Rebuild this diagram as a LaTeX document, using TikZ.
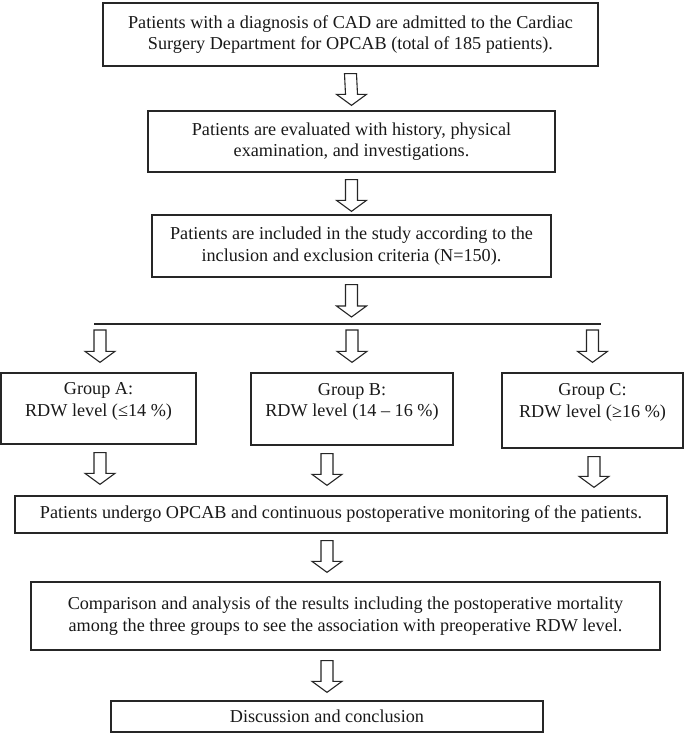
\documentclass[tikz,border=0pt]{standalone}
\usepackage{fontspec}
\setmainfont{Liberation Serif}
\usetikzlibrary{
    positioning,
    calc
}
\tikzset{
    % Colors
    frame color/.style={black!85},
    %
    % Boxes
    flow box/.style={draw,frame color,line width=1.3pt,inner sep=0pt,align=center,text=black!90},
    group box/.style={flow box,minimum width=#1},
    group text/.style={inner sep=0pt,align=center,text=black!90},
    %
    % Arrows and lines
    hollow arrow line/.style={draw,frame color,line width=1.1pt,fill=white,line join=miter},
    divider/.style={frame color,line width=1.1pt},
}
\tikzstyle{every node}=[font=\fontsize{18.2}{21.5}\selectfont]
% hollow block arrow from #1 (top of shaft) down to #2 (tip)
\newcommand{\hollowarrow}[2]{%
    \draw[hollow arrow line] ($(#1)+(-6,0)$) -- ($(#2)+(-6,-11)$) -- ($(#2)+(-15,-11)$) -- (#2)
        -- ($(#2)+(15,-11)$) -- ($(#2)+(6,-11)$) -- ($(#1)+(6,0)$) -- cycle;}

\begin{document}
\begin{tikzpicture}[x=1pt,y=-1pt]
        \useasboundingbox (0,0) rectangle (685,741);
        \node[flow box,minimum width=495pt,minimum height=63pt] (Admission) at (350.5,34.5)
            {Patients with a diagnosis of CAD are admitted to the Cardiac\\Surgery Department for OPCAB (total of 185 patients).};
        \node[flow box,minimum width=407pt,minimum height=61pt] (Evaluation) at (351.5,141.5)
            {Patients are evaluated with history, physical\\examination, and investigations.};
        \node[flow box,minimum width=399pt,minimum height=62pt] (Inclusion) at (351.5,246)
            {Patients are included in the study according to the\\inclusion and exclusion criteria (N=150).};
        \coordinate (Split Left) at (94,324);
        \coordinate (Split Right) at (601,324);
        \draw[divider] (Split Left) -- (Split Right);
        % the three groups
        \node[group box=195pt,minimum height=71pt] (Group A) at (98.5,408.5) {};
        \node[group box=202pt,minimum height=72pt] (Group B) at (352,409) {};
        \node[group box=181pt,minimum height=75pt] (Group C) at (592.5,410.5) {};
        \node[group text] (Group A Text) at ($(Group A.center)+(0,-7)$) {Group A:\\RDW level (≤14 \%)};
        \node[group text] (Group B Text) at ($(Group B.center)+(0,-7)$) {Group B:\\RDW level (14 – 16 \%)};
        \node[group text] (Group C Text) at ($(Group C.center)+(0,-8)$) {Group C:\\RDW level (≥16 \%)};
        \node[flow box,minimum width=652pt,minimum height=37pt] (Undergo) at (341,514.5)
            {Patients undergo OPCAB and continuous postoperative monitoring of the patients.};
        \node[flow box,minimum width=629pt,minimum height=68pt] (Comparison) at (345.5,616)
            {Comparison and analysis of the results including the postoperative mortality\\among the three groups to see the association with preoperative RDW level.};
        \node[flow box,minimum width=432pt,minimum height=31pt] (Discussion) at (327,716.5)
            {Discussion and conclusion};
        % arrow ends
        \coordinate (A1 top) at ($(Admission.south)+(0,7)$);
        \coordinate (A1 tip) at ($(Evaluation.north)+(0,-5)$);
        \coordinate (A2 top) at ($(Evaluation.south)+(0,7)$);
        \coordinate (A2 tip) at ($(Inclusion.north)+(0,-3)$);
        \coordinate (A3 top) at ($(Inclusion.south)+(0,7)$);
        \coordinate (A3 tip) at ($(Inclusion.south |- Split Left)+(0,-7)$);
        \coordinate (GA top) at ($(Split Left -| 100,0)+(0,6)$);
        \coordinate (GA tip) at ($(Group A.north -| GA top)+(0,-10)$);
        \coordinate (GB top) at ($(Split Left -| Group B.north)+(0,6)$);
        \coordinate (GB tip) at ($(Group B.north)+(0,-10)$);
        \coordinate (GC top) at ($(Split Left -| Group C.north)+(0,6)$);
        \coordinate (GC tip) at ($(Group C.north)+(0,-10)$);
        \coordinate (LA top) at ($(Group A.south -| GA top)+(0,8)$);
        \coordinate (LA tip) at ($(Undergo.north -| GA top)+(0,-11)$);
        \coordinate (LB top) at ($(Group B.south -| Discussion.north)+(0,8)$);
        \coordinate (LB tip) at ($(Undergo.north -| Discussion.north)+(0,-10)$);
        \coordinate (LC top) at ($(Group C.south -| 594,0)+(0,8)$);
        \coordinate (LC tip) at ($(Undergo.north -| LC top)+(0,-8)$);
        \coordinate (A4 top) at ($(Undergo.south -| Discussion.north)+(0,7)$);
        \coordinate (A4 tip) at ($(Comparison.north -| Discussion.north)+(0,-9)$);
        \coordinate (A5 top) at ($(Comparison.south -| Discussion.north)+(0,10)$);
        \coordinate (A5 tip) at ($(Discussion.north)+(0,-8)$);
        \hollowarrow{A1 top}{A1 tip}
        \hollowarrow{A2 top}{A2 tip}
        \hollowarrow{A3 top}{A3 tip}
        \hollowarrow{GA top}{GA tip}
        \hollowarrow{GB top}{GB tip}
        \hollowarrow{GC top}{GC tip}
        \hollowarrow{LA top}{LA tip}
        \hollowarrow{LB top}{LB tip}
        \hollowarrow{LC top}{LC tip}
        \hollowarrow{A4 top}{A4 tip}
        \hollowarrow{A5 top}{A5 tip}
    \end{tikzpicture}
\end{document}
